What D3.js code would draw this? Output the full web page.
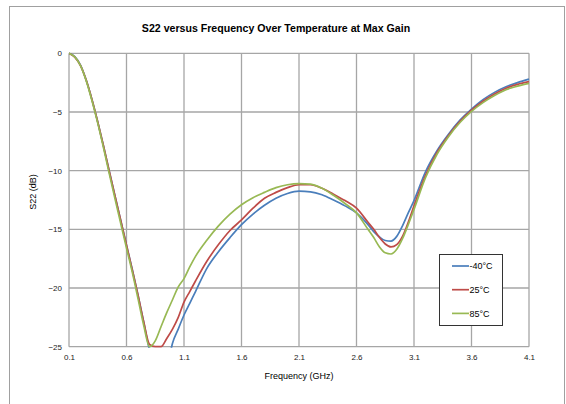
<!DOCTYPE html>
<html>
<head>
<meta charset="utf-8">
<script src="https://cdn.jsdelivr.net/npm/d3@7"></script>
<style>
  html, body { margin: 0; padding: 0; background: #fff; }
  svg { display: block; font-family: "Liberation Sans", Arial, sans-serif; }
</style>
</head>
<body>
<svg id="chart" width="566" height="404"></svg>
<script>
const freq = [0.1,0.15,0.2,0.25,0.3,0.35,0.4,0.45,0.5,0.55,0.6,0.65,0.7,0.75,0.8,0.85,0.9,0.95,1.0,1.05,1.1,1.15,1.2,1.3,1.4,1.5,1.6,1.7,1.8,1.9,2.0,2.1,2.2,2.3,2.4,2.5,2.6,2.7,2.75,2.8,2.85,2.9,2.95,3.0,3.05,3.1,3.2,3.3,3.4,3.5,3.6,3.7,3.8,3.9,4.0,4.1];

const sNeg40 = [0,-0.28,-1.0,-2.3,-3.95,-5.85,-7.9,-10.05,-12.15,-14.25,-16.35,-18.4,-20.6,-22.9,-25.3,-27,-28,-27,-24.7,-23.5,-22.3,-21.3,-20.3,-18.3,-16.9,-15.7,-14.6,-13.7,-12.95,-12.35,-11.95,-11.75,-11.8,-12.05,-12.5,-13.0,-13.6,-14.6,-15.2,-15.65,-15.95,-16.0,-15.6,-14.7,-13.6,-12.55,-10.1,-8.3,-6.9,-5.7,-4.75,-3.95,-3.33,-2.85,-2.5,-2.2];

const s25 = [0,-0.32,-1.05,-2.3,-3.95,-5.85,-7.9,-10.05,-12.15,-14.25,-16.35,-18.45,-20.6,-22.9,-24.8,-25.0,-25.0,-24.3,-23.5,-22.5,-21.2,-20.3,-19.4,-17.7,-16.3,-15.1,-14.2,-13.2,-12.35,-11.85,-11.45,-11.2,-11.2,-11.5,-12.0,-12.55,-13.2,-14.4,-15.0,-15.7,-16.25,-16.5,-16.3,-15.6,-14.4,-13.0,-10.4,-8.45,-7.0,-5.8,-4.85,-4.08,-3.47,-2.98,-2.65,-2.42];

const s85 = [0,-0.3,-1.05,-2.35,-4.05,-5.95,-8.05,-10.25,-12.4,-14.5,-16.6,-18.65,-20.9,-23.2,-25.0,-24.5,-23.3,-22.1,-21.0,-19.9,-19.2,-18.2,-17.3,-15.9,-14.7,-13.7,-12.9,-12.3,-11.85,-11.45,-11.2,-11.1,-11.15,-11.5,-12.1,-12.8,-13.6,-15.0,-15.7,-16.5,-17.0,-17.1,-16.7,-15.8,-14.6,-13.3,-10.6,-8.6,-7.1,-5.9,-4.95,-4.2,-3.6,-3.1,-2.8,-2.56];

const seriesNames = ["-40°C", "25°C", "85°C"];
const seriesColors = ["#4A7EBB", "#BE4B48", "#98B954"];
const xTicks = [0.1,0.6,1.1,1.6,2.1,2.6,3.1,3.6,4.1];
const yTicks = [0,-5,-10,-15,-20,-25];

const allSeries = [sNeg40, s25, s85];

const svg = d3.select("#chart");
const L = 69, R = 529, T = 53.3, B = 346.7;

const x = d3.scaleLinear().domain([0.1, 4.1]).range([L, R]);
const y = d3.scaleLinear().domain([-25, 0]).range([B, T]);

// outer border
svg.append("rect")
  .attr("x", 9.5).attr("y", 6.5).attr("width", 555).attr("height", 420)
  .attr("fill", "none").attr("stroke", "#a0a0a0").attr("stroke-width", 1);

// title
svg.append("text")
  .attr("x", 276).attr("y", 31.5)
  .attr("text-anchor", "middle")
  .attr("font-weight", "bold").attr("font-size", "10.6px").attr("fill", "#000")
  .text("S22 versus Frequency Over Temperature at Max Gain");

// gridlines
const grid = svg.append("g");
grid.selectAll("line.v").data(xTicks).enter().append("line")
  .attr("x1", d => x(d)).attr("x2", d => x(d)).attr("y1", T).attr("y2", B)
  .attr("stroke", "#a6a6a6").attr("stroke-width", 1.3);
grid.selectAll("line.h").data(yTicks).enter().append("line")
  .attr("x1", L).attr("x2", R).attr("y1", d => y(d)).attr("y2", d => y(d))
  .attr("stroke", "#a6a6a6").attr("stroke-width", 1.3);

// axes labels via d3 axes
const xAxis = d3.axisBottom(x).tickValues(xTicks).tickSize(0).tickPadding(8).tickFormat(d3.format(".1f"));
const gx = svg.append("g").attr("transform", `translate(0,${B})`).call(xAxis);
gx.select(".domain").remove();
gx.selectAll("text").attr("font-size", "8px").attr("fill", "#222").attr("font-family", "Liberation Sans, Arial, sans-serif");

const yAxis = d3.axisLeft(y).tickValues(yTicks).tickSize(0).tickPadding(7).tickFormat(d3.format("d"));
const gy = svg.append("g").attr("transform", `translate(${L},0)`).call(yAxis);
gy.select(".domain").remove();
gy.selectAll("text").attr("font-size", "8px").attr("fill", "#222").attr("font-family", "Liberation Sans, Arial, sans-serif");

svg.append("text")
  .attr("x", (L + R) / 2).attr("y", 379)
  .attr("text-anchor", "middle").attr("font-size", "9px").attr("fill", "#000")
  .text("Frequency (GHz)");

svg.append("text")
  .attr("transform", `translate(36,${(T + B) / 2 - 8}) rotate(-90)`)
  .attr("text-anchor", "middle").attr("font-size", "9px").attr("fill", "#000")
  .text("S22 (dB)");

// clip
svg.append("clipPath").attr("id", "plotclip")
  .append("rect").attr("x", L).attr("y", T - 2).attr("width", R - L + 2).attr("height", B - T + 3);

const line = d3.line()
  .x((d, i) => x(freq[i]))
  .y(d => y(d))
  .curve(d3.curveMonotoneX);

const lines = svg.append("g").attr("clip-path", "url(#plotclip)");
allSeries.forEach((s, k) => {
  lines.append("path")
    .datum(s)
    .attr("d", line)
    .attr("fill", "none")
    .attr("stroke", seriesColors[k])
    .attr("stroke-width", 1.7)
    .attr("stroke-linejoin", "round");
});

// legend
const lg = svg.append("g");
lg.append("rect")
  .attr("x", 439.5).attr("y", 254.5).attr("width", 63).attr("height", 71)
  .attr("fill", "#fff").attr("stroke", "#333").attr("stroke-width", 1);
seriesNames.forEach((n, k) => {
  const yy = 266 + k * 23.7;
  lg.append("line").attr("x1", 452).attr("x2", 469).attr("y1", yy).attr("y2", yy)
    .attr("stroke", seriesColors[k]).attr("stroke-width", 1.7);
  lg.append("text").attr("x", 469.5).attr("y", yy + 3.2)
    .attr("font-size", "9px").attr("fill", "#000").text(n);
});
</script>
</body>
</html>
